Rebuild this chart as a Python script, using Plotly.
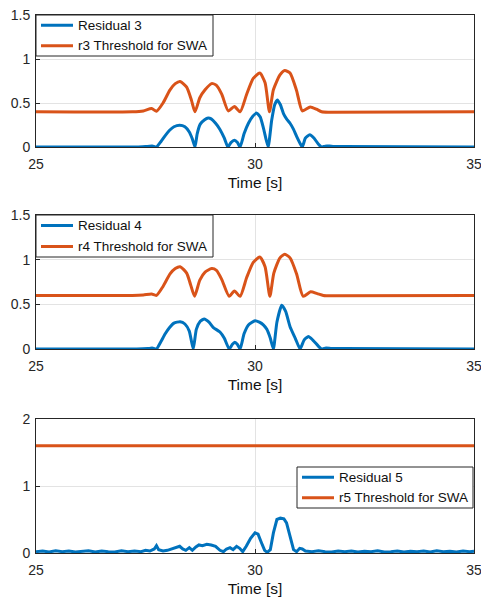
import plotly.graph_objects as go

# ---------------- data ----------------
t_r3 = [25.0, 27.3, 27.5, 27.65, 27.75, 27.85, 27.95, 28.05, 28.15, 28.28, 28.4, 28.5, 28.57, 28.63,
        28.68, 28.75, 28.85, 28.93, 29.0, 29.1, 29.2, 29.3, 29.38, 29.45, 29.53, 29.6, 29.66,
        29.75, 29.85, 29.95, 30.04, 30.12, 30.2, 30.3, 30.38, 30.45, 30.51, 30.58, 30.65, 30.72,
        30.8, 30.88, 30.95, 31.03, 31.08, 31.15, 31.25, 31.35, 31.45, 31.52, 31.6, 31.7, 31.8, 32.0, 35.0]
r3 = [0, 0, 0.005, 0.01, 0.0, 0.06, 0.13, 0.19, 0.23, 0.247, 0.23, 0.17, 0.09, 0.0,
      0.15, 0.26, 0.31, 0.33, 0.32, 0.27, 0.2, 0.1, 0.0, 0.05, 0.076, 0.05, 0.0,
      0.15, 0.27, 0.35, 0.385, 0.34, 0.2, 0.0, 0.3, 0.48, 0.535, 0.48, 0.38, 0.32,
      0.27, 0.2, 0.12, 0.04, 0.0, 0.1, 0.14, 0.1, 0.03, 0.0, 0.01, 0.01, 0.005, 0.005, 0.0]

t_th3 = [25.0, 27.2, 27.45, 27.64, 27.75, 27.9, 28.06, 28.18, 28.29, 28.44, 28.55, 28.63, 28.74,
         28.86, 29.01, 29.12, 29.24, 29.39, 29.53, 29.66, 29.81, 29.96, 30.11, 30.23, 30.33,
         30.42, 30.57, 30.68, 30.8, 30.95, 31.08, 31.26, 31.4, 31.52, 31.71, 35.0]
th3 = [0.4, 0.4, 0.41, 0.437, 0.406, 0.5, 0.65, 0.72, 0.745, 0.68, 0.53, 0.4, 0.56,
       0.65, 0.72, 0.7, 0.6, 0.41, 0.46, 0.4, 0.6, 0.78, 0.84, 0.73, 0.4,
       0.65, 0.82, 0.87, 0.84, 0.64, 0.41, 0.455, 0.43, 0.4, 0.395, 0.4]

t_r4 = [25.0, 27.3, 27.55, 27.65, 27.75, 27.85, 27.95, 28.05, 28.15, 28.29, 28.4, 28.5, 28.59,
        28.66, 28.75, 28.84, 28.95, 29.05, 29.2, 29.3, 29.41, 29.48, 29.54, 29.6, 29.66,
        29.75, 29.85, 30.0, 30.1, 30.19, 30.27, 30.35, 30.42, 30.5, 30.61, 30.7, 30.8, 30.92,
        31.03, 31.12, 31.22, 31.32, 31.45, 31.52, 31.62, 31.75, 32.0, 35.0]
r4 = [0, 0, 0.005, 0.01, 0.0, 0.08, 0.17, 0.24, 0.29, 0.306, 0.28, 0.2, 0.0,
      0.22, 0.31, 0.336, 0.3, 0.24, 0.19, 0.12, 0.0, 0.05, 0.075, 0.05, 0.0,
      0.17, 0.27, 0.317, 0.3, 0.27, 0.22, 0.12, 0.0, 0.3, 0.49, 0.42, 0.25, 0.12,
      0.0, 0.1, 0.14, 0.1, 0.03, 0.0, 0.01, 0.005, 0.005, 0.0]

t_th4 = [25.0, 27.2, 27.45, 27.64, 27.75, 27.9, 28.06, 28.18, 28.29, 28.44, 28.53, 28.62, 28.74,
         28.86, 29.01, 29.12, 29.24, 29.41, 29.53, 29.66, 29.81, 29.96, 30.11, 30.23, 30.34,
         30.43, 30.57, 30.68, 30.8, 30.95, 31.1, 31.27, 31.42, 31.56, 31.75, 35.0]
th4 = [0.6, 0.6, 0.605, 0.615, 0.6, 0.7, 0.84, 0.9, 0.92, 0.85, 0.72, 0.59, 0.77,
       0.86, 0.9, 0.88, 0.78, 0.59, 0.65, 0.59, 0.8, 0.97, 1.03, 0.92, 0.59,
       0.85, 1.02, 1.06, 1.02, 0.84, 0.59, 0.64, 0.62, 0.6, 0.595, 0.6]

t_r5 = [25.0, 25.15, 25.3, 25.45, 25.6, 25.75, 25.9, 26.05, 26.2, 26.35, 26.5, 26.65, 26.8, 26.95,
        27.1, 27.25, 27.4, 27.5, 27.6, 27.7, 27.75, 27.8, 27.9, 28.0, 28.1, 28.2, 28.28, 28.35,
        28.42, 28.5, 28.57, 28.65, 28.72, 28.8, 28.9, 29.0, 29.1, 29.2, 29.28, 29.35, 29.43,
        29.5, 29.58, 29.65, 29.72, 29.8, 29.9, 30.0, 30.07, 30.15, 30.22, 30.28, 30.35, 30.42,
        30.5, 30.58, 30.66, 30.72, 30.8, 30.88, 30.95, 31.02, 31.08, 31.15, 31.3, 31.45, 31.6,
        31.75, 31.9, 32.05, 32.2, 32.35, 32.5, 32.65, 32.8, 32.95, 33.1, 33.25, 33.4, 33.55,
        33.7, 33.85, 34.0, 34.15, 34.3, 34.45, 34.6, 34.75, 34.9, 35.0]
r5 = [0.02, 0.03, 0.015, 0.035, 0.02, 0.03, 0.015, 0.025, 0.035, 0.015, 0.03, 0.02, 0.015, 0.035,
      0.02, 0.03, 0.02, 0.04, 0.03, 0.06, 0.11, 0.05, 0.03, 0.04, 0.06, 0.09, 0.1, 0.06,
      0.04, 0.08, 0.04, 0.09, 0.12, 0.11, 0.13, 0.12, 0.1, 0.04, 0.02, 0.06, 0.08,
      0.05, 0.1, 0.07, 0.02, 0.1, 0.22, 0.3, 0.28, 0.15, 0.04, 0.01, 0.05, 0.3,
      0.5, 0.52, 0.51, 0.45, 0.25, 0.05, 0.02, 0.07, 0.06, 0.03, 0.02, 0.035, 0.02,
      0.015, 0.03, 0.02, 0.03, 0.015, 0.025, 0.02, 0.035, 0.015, 0.02, 0.03, 0.015, 0.025,
      0.02, 0.03, 0.015, 0.035, 0.02, 0.025, 0.015, 0.03, 0.02, 0.025]

t_th5 = [25.0, 35.0]
th5 = [1.6, 1.6]

x_ticks = [25, 30, 35]
y_ticks_12 = [0, 0.5, 1, 1.5]
y_tick_text_12 = ["0", "0.5", "1", "1.5"]
y_ticks_3 = [0, 1, 2]

BLUE = "#0072BD"
ORANGE = "#D95319"
FONT = "Arial, Liberation Sans, sans-serif"

W, H = 481, 603
xl, xr = 36 / W, 474 / W
doms = [(1 - 147 / H, 1 - 15 / H), (1 - 349 / H, 1 - 215 / H), (1 - 553 / H, 1 - 419 / H)]

# legend boxes in pixel coordinates (left, top, right, bottom)
legend_boxes = [(36, 15, 213, 56), (36, 215, 213, 257), (297, 467, 473, 508)]

fig = go.Figure()

panels = [
    (t_r3, r3, t_th3, th3, "Residual 3", "r3 Threshold for SWA", "spline"),
    (t_r4, r4, t_th4, th4, "Residual 4", "r4 Threshold for SWA", "spline"),
    (t_r5, r5, t_th5, th5, "Residual 5", "r5 Threshold for SWA", "linear"),
]


def px(xp):
    return xp / W


def py(yp):
    return 1 - yp / H


shapes = []
annotations = []
for i, (tx, ry, tt, ty, n1, n2, shp) in enumerate(panels):
    xa = "x" if i == 0 else f"x{i+1}"
    ya = "y" if i == 0 else f"y{i+1}"
    fig.add_trace(go.Scatter(x=tx, y=ry, mode="lines", name=n1, xaxis=xa, yaxis=ya,
                             line=dict(color=BLUE, width=3, shape=shp, smoothing=0.5),
                             showlegend=False))
    fig.add_trace(go.Scatter(x=tt, y=ty, mode="lines", name=n2, xaxis=xa, yaxis=ya,
                             line=dict(color=ORANGE, width=3, shape=shp, smoothing=0.6),
                             showlegend=False))
    # legend box drawn over the plot
    L, T, R, B = legend_boxes[i]
    shapes.append(dict(type="rect", xref="paper", yref="paper", layer="above",
                       x0=px(L), x1=px(R), y0=py(B), y1=py(T),
                       fillcolor="white", line=dict(color="#262626", width=1)))
    rows = [(n1, BLUE), (n2, ORANGE)]
    step = (B - T) / 2
    for k, (name, col) in enumerate(rows):
        yc = T + step * (k + 0.5)
        shapes.append(dict(type="line", xref="paper", yref="paper", layer="above",
                           x0=px(L + 5), x1=px(L + 37), y0=py(yc), y1=py(yc),
                           line=dict(color=col, width=3)))
        annotations.append(dict(text=name, xref="paper", yref="paper", x=px(L + 40), y=py(yc),
                                xanchor="left", yanchor="middle", showarrow=False,
                                font=dict(family=FONT, size=13.5, color="#111")))

axis_common = dict(showline=True, mirror=True, linecolor="#262626", linewidth=1,
                   ticks="inside", ticklen=4, tickcolor="#262626",
                   showgrid=True, gridcolor="#e3e3e3", gridwidth=1, zeroline=False,
                   tickfont=dict(family=FONT, size=14, color="#262626"), automargin=False,
                   ticklabeloverflow="allow")

layout = dict(width=W, height=H, margin=dict(l=0, r=0, t=0, b=0),
              paper_bgcolor="white", plot_bgcolor="white",
              font=dict(family=FONT, color="#262626"),
              shapes=shapes, annotations=annotations, showlegend=False)

for i in range(3):
    sx = "" if i == 0 else str(i + 1)
    xa = dict(axis_common, domain=[xl, xr], range=[25, 35], tickvals=x_ticks,
              anchor="y" + sx, ticklabelstandoff=4,
              title=dict(text="Time [s]", font=dict(family=FONT, size=15.5, color="#111"), standoff=6))
    if i < 2:
        ya = dict(axis_common, domain=list(doms[i]), range=[0, 1.5], tickvals=y_ticks_12,
                  ticktext=y_tick_text_12, anchor="x" + sx, ticklabelstandoff=2)
    else:
        ya = dict(axis_common, domain=list(doms[i]), range=[0, 2], tickvals=y_ticks_3,
                  anchor="x" + sx, ticklabelstandoff=2)
    layout["xaxis" + sx] = xa
    layout["yaxis" + sx] = ya

fig.update_layout(**layout)
fig.write_html("out.html")
